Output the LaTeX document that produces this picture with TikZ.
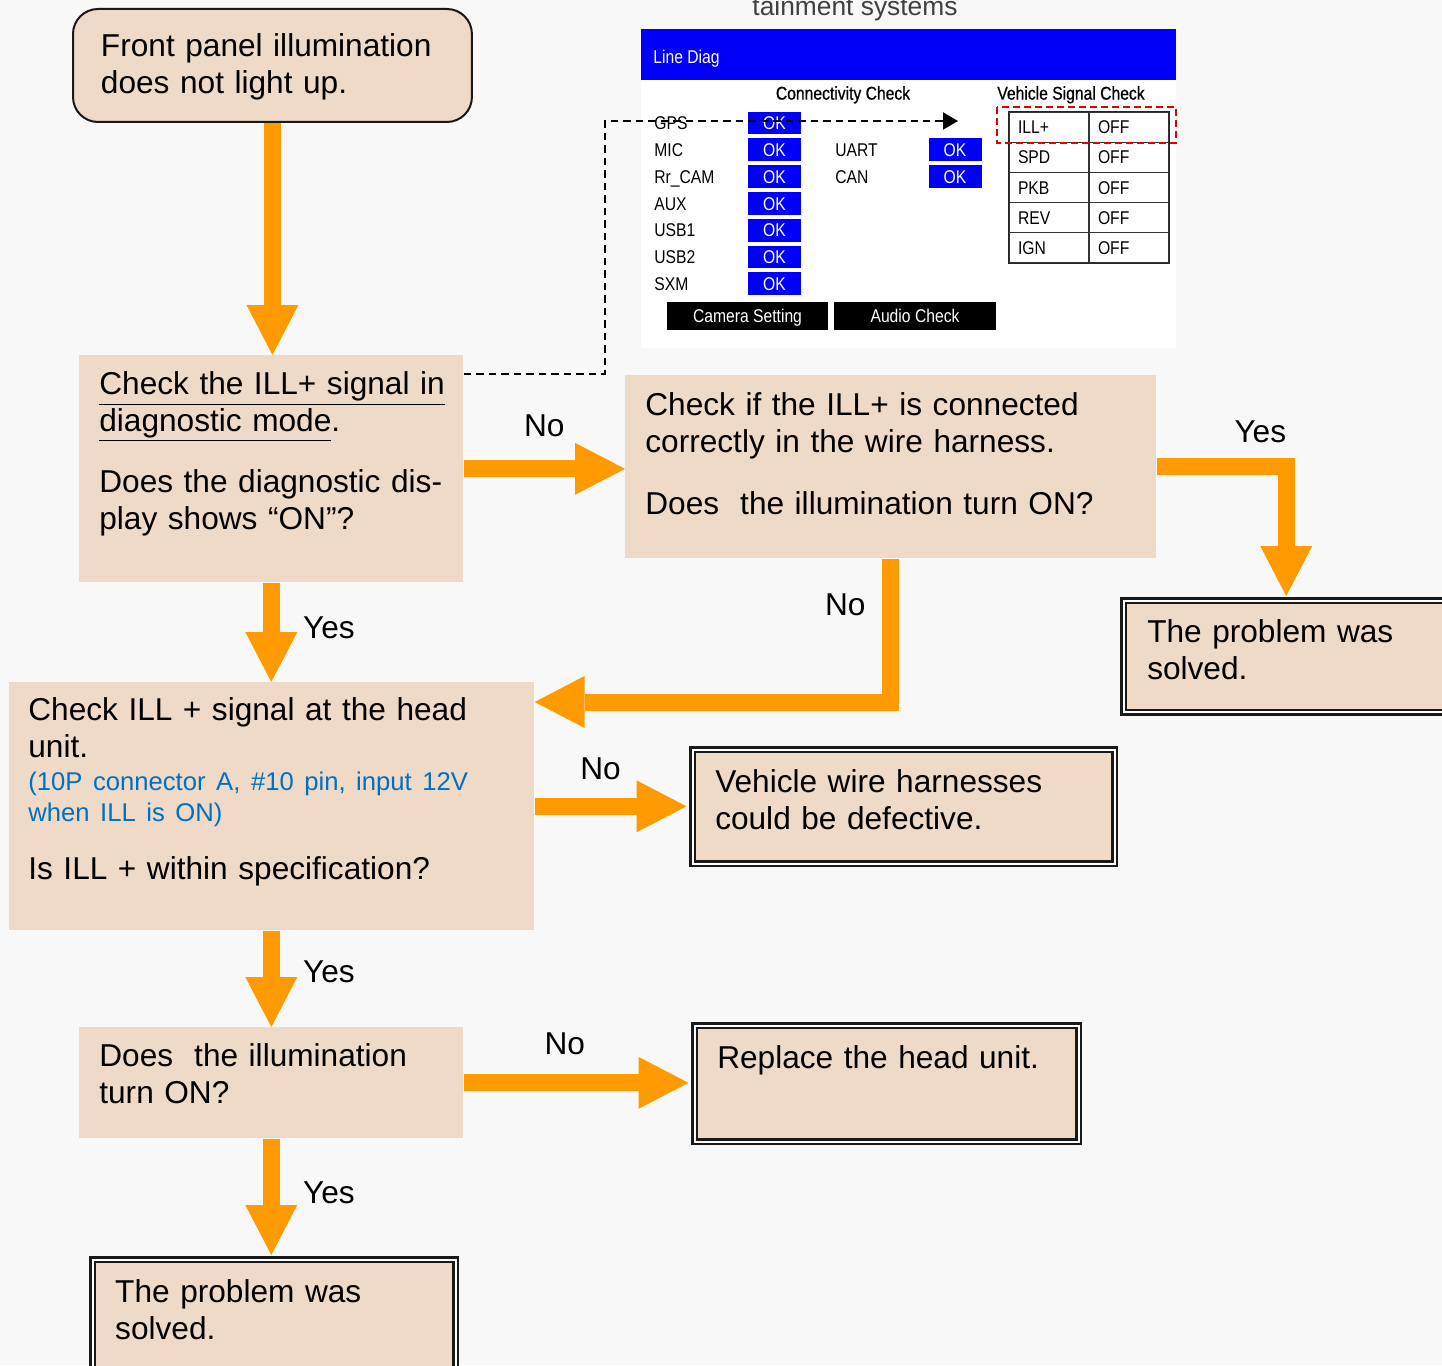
\documentclass[tikz,border=0pt]{standalone}
\usepackage{fontspec}
\setmainfont{Liberation Sans}
\newfontfamily\panelfont[FakeStretch=0.85]{Liberation Sans}
\newfontfamily\panelhead[FakeStretch=0.85, FakeBold=0.8]{Liberation Sans}
\usetikzlibrary{arrows.meta,positioning}
\definecolor{peach}{HTML}{EFD9C7}
\definecolor{flowor}{HTML}{FF9B00}
\definecolor{pagebg}{HTML}{F8F8F8}
\definecolor{notblue}{HTML}{0070C0}
\definecolor{scrblue}{HTML}{0000F8}
\definecolor{capgray}{HTML}{404040}

\begin{document}
\begin{tikzpicture}[x=0.02cm, y=-0.02cm,
  box/.style={fill=peach, anchor=north west, align=left, text height=0.49cm,
              font=\fontsize{18}{21}\selectfont},
  endbox/.style={box, draw=black!90, line width=0.05cm, double=white, double distance=0.04cm},
  flow/.style={-{Triangle[width=1.04cm, length=1cm, line width=0pt]}, line width=0.34cm, draw=flowor},
  lbl/.style={font=\fontsize{18}{21}\selectfont},
  diaglink/.style={-{Triangle[width=0.34cm, length=0.3cm]}, dash pattern=on 0.15cm off 0.1cm,
                   line width=0.04cm},
  scr/.style={font=\panelfont\fontsize{10.5}{12}\selectfont, inner sep=0pt,
              text height=0.265cm, text depth=0pt},
  okbox/.style={scr, fill=scrblue, text=white, minimum width=1.06cm, minimum height=0.46cm},
  cell/.style={scr, draw=black!80, line width=0.6pt, align=left, text width=1.24cm,
               inner xsep=0.18cm, minimum height=0.604cm},
  btn/.style={scr, fill=black, text=white, minimum height=0.56cm}
]
\useasboundingbox (0,0) rectangle (1442,1365);
\fill[pagebg] (0,0) rectangle (1442,1365);

% flow chart boxes
\node[box, draw=black!90, line width=0.04cm, rounded corners=0.5cm, inner xsep=0.56cm,
      inner ysep=0.46cm, text width=6.86cm, text depth=0.85cm] (start) at (72,8)
  {Front panel illumination\\does not light up.};
\node[box, inner xsep=0.4cm, inner ysep=0.3cm, text width=6.88cm, text depth=3.45cm] (diag) at (79,355)
  {\underline{Check the ILL+ signal in}\\\underline{diagnostic mode}.\\[13.7pt]
   Does the diagnostic dis-\\play shows “ON”?};
\node[box, inner xsep=0.4cm, inner ysep=0.32cm, text width=9.82cm, text depth=2.53cm] (harness) at (625,375)
  {Check if the ILL+ is connected\\correctly in the wire harness.\\[14.3pt]
   Does~ the illumination turn ON?};
\node[endbox, inner xsep=0.47cm, inner ysep=0.35cm, text width=5.56cm, text depth=1.04cm] (solvedA) at (1122.5,599.5)
  {The problem was\\solved.};
\node[box, inner xsep=0.38cm, inner ysep=0.28cm, text width=9.74cm, text depth=3.91cm] (headunit) at (9,682)
  {Check ILL + signal at the head\\unit.\\[-2.5pt]
   {\color{notblue}\fontsize{14.6}{17.6}\selectfont (10P connector A, \#10 pin, input 12V}\\[-3.4pt]
   {\color{notblue}\fontsize{14.6}{17.6}\selectfont when ILL is ON)}\\[12pt]
   Is ILL + within specification?};
\node[endbox, inner xsep=0.45cm, inner ysep=0.37cm, text width=7.54cm, text depth=1.05cm] (wires) at (691.5,748.5)
  {Vehicle wire harnesses\\could be defective.};
\node[box, inner xsep=0.4cm, inner ysep=0.3cm, text width=6.88cm, text depth=1.13cm] (illum) at (79,1027)
  {Does~ the illumination\\turn ON?};
\node[endbox, inner xsep=0.45cm, inner ysep=0.37cm, text width=6.78cm, text depth=1.09cm] (replace) at (693.5,1024.5)
  {Replace the head unit.};
\node[endbox, inner xsep=0.45cm, inner ysep=0.37cm, text width=6.36cm, text depth=1.57cm] (solvedB) at (91.5,1258.5)
  {The problem was\\solved.};

% diagnostic screen
\node[font=\fontsize{15}{18}\selectfont, text=capgray, anchor=base] (capt) at (855,16) {tainment systems};
\fill[white] (641,29) rectangle (1176,348);
\fill[scrblue] (641,29) rectangle (1176,80);
\node[scr, text=white, anchor=west] (linediag) at (653,57) {Line Diag};
\node[scr, font=\panelhead\fontsize{10.5}{12}\selectfont] (conhead) at (843,93) {Connectivity Check};
\node[scr, font=\panelhead\fontsize{10.5}{12}\selectfont] (sighead) at (1071,93) {Vehicle Signal Check};
\foreach \dev [count=\i from 0] in {GPS,MIC,Rr\_CAM,AUX,USB1,USB2,SXM} {
  \node[scr, anchor=west] (dev\i) at (654,{123+26.8*\i}) {\dev};
  \node[okbox] (ok\i) at (774.5,{123+26.8*\i}) {OK};
}
\foreach \dev [count=\i from 1] in {UART,CAN} {
  \node[scr, anchor=west] (bus\i) at (835,{123+26.8*\i}) {\dev};
  \node[okbox] (busok\i) at (955,{123+26.8*\i}) {OK};
}
\foreach \sig [count=\i from 0] in {ILL+,SPD,PKB,REV,IGN} {
  \node[cell] (sig\i) at (1049,{127.1+30.2*\i}) {\sig};
  \node[cell] (val\i) at (1129,{127.1+30.2*\i}) {OFF};
}
\draw[black!85, line width=0.035cm] (sig0.north west) rectangle (val4.south east);
\draw[red!90!black, dash pattern=on 0.14cm off 0.08cm, line width=0.04cm] (997,107) rectangle (1176,143);
\node[btn, minimum width=3.22cm] (camset) at (747.5,316) {Camera Setting};
\node[btn, minimum width=3.24cm] (audio) at (915,316) {Audio Check};

% connectors
\coordinate (sigbend) at (605,121);
\coordinate (sigtip) at (958,121);
\draw[diaglink] ([yshift=-0.38cm]diag.north east) -| (sigbend) -- (sigtip);

\draw[flow] (start.south) -- (start.south |- diag.north);
\draw[flow] (diag.east) -- (diag.east -| harness.west)
  node[lbl, midway, above=0.35cm] {No};
\draw[flow, shorten >=0.07cm] (harness.east) -| (solvedA.north)
  node[lbl, pos=0.4, above=0.2cm] {Yes};
\draw[flow] (harness.south) |- ([yshift=-0.4cm]headunit.north east)
  node[lbl, pos=0.16, left=0.22cm] {No};
\draw[flow] (diag.south) -- (diag.south |- headunit.north)
  node[lbl, pos=0.45, right=0.35cm] {Yes};
\draw[flow, shorten >=0.1cm] (headunit.east) -- (headunit.east -| wires.west)
  node[lbl, pos=0.42, above=0.25cm] {No};
\draw[flow] (diag.south |- headunit.south) -- (diag.south |- illum.north)
  node[lbl, pos=0.43, right=0.35cm] {Yes};
\draw[flow, shorten >=0.1cm] (illum.east) -- (illum.east -| replace.west)
  node[lbl, pos=0.44, above=0.28cm] {No};
\draw[flow, shorten >=0.07cm] (illum.south) -- (illum.south |- solvedB.north)
  node[lbl, pos=0.45, right=0.35cm] {Yes};
\end{tikzpicture}
\end{document}
